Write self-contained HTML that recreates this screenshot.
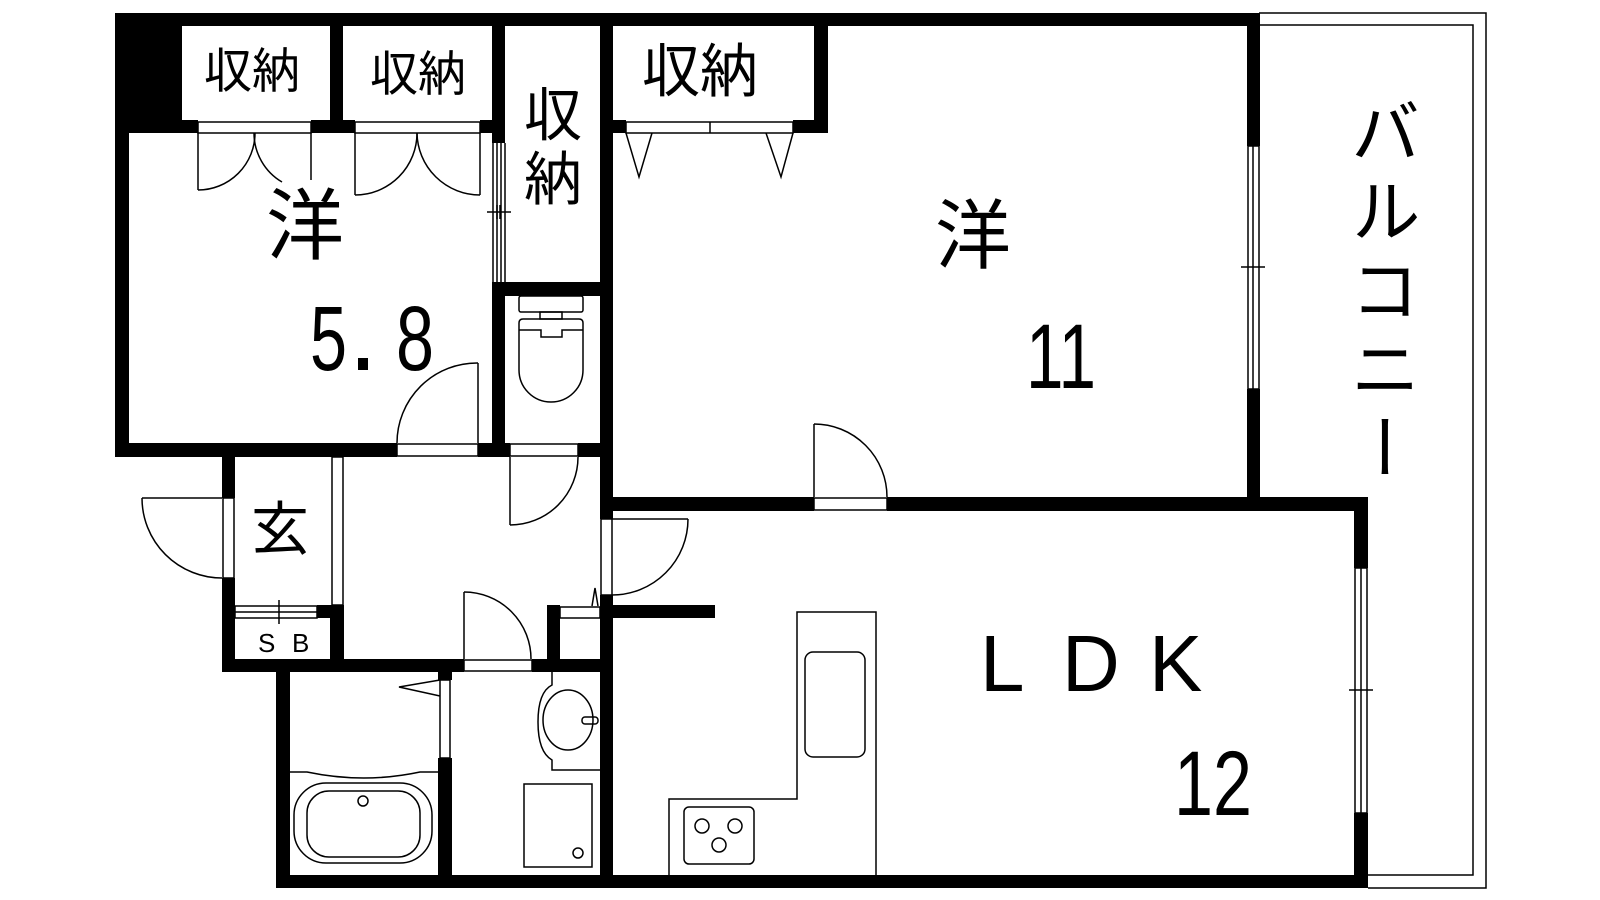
<!DOCTYPE html>
<html><head><meta charset="utf-8"><style>
html,body{margin:0;padding:0;background:#fff;}
body{width:1600px;height:900px;position:relative;overflow:hidden;}
svg{position:absolute;left:0;top:0;}
.j{font-family:"Liberation Sans","Noto Sans CJK JP",sans-serif;}
#bal{position:absolute;left:1345px;top:96px;width:80px;writing-mode:vertical-rl;font-family:"Noto Sans CJK JP",sans-serif;font-size:70px;line-height:80px;letter-spacing:9px;color:#000;}
</style></head><body>
<svg width="1600" height="900" viewBox="0 0 1600 900" xmlns="http://www.w3.org/2000/svg">
<g fill="none" stroke="#000" stroke-width="1.5">
<!-- balcony -->
<polyline points="1259,13 1486,13 1486,888 1368,888"/>
<polyline points="1259,25 1473,25 1473,875 1368,875"/>
</g>
<g fill="#000">
<!-- top wall -->
<rect x="115" y="13" width="1144" height="13"/>
<!-- black block -->
<rect x="115" y="13" width="67" height="120"/>
<!-- left wall room5.8 -->
<rect x="115" y="13" width="14" height="444"/>
<!-- closet divider -->
<rect x="330" y="13" width="13" height="120"/>
<!-- wall under closets -->
<rect x="129" y="120" width="69" height="13"/>
<rect x="311" y="120" width="44" height="13"/>
<rect x="480" y="120" width="25" height="13"/>
<!-- vertical wall 493-505 -->
<rect x="492" y="13" width="13" height="130"/>
<rect x="492" y="282" width="13" height="175"/>
<!-- wall tall closet/toilet -->
<rect x="492" y="282" width="121" height="14"/>
<!-- vertical wall 600-613 -->
<rect x="600" y="13" width="13" height="506"/>
<rect x="600" y="595" width="13" height="293"/>
<!-- closet3 -->
<rect x="814" y="13" width="14" height="120"/>
<rect x="613" y="120" width="13" height="13"/>
<rect x="793" y="120" width="35" height="13"/>
<!-- bedroom right wall -->
<rect x="1247" y="13" width="13" height="133"/>
<rect x="1247" y="389" width="13" height="122"/>
<!-- bedroom bottom / LDK top -->
<rect x="600" y="497" width="214" height="14"/>
<rect x="887" y="497" width="481" height="14"/>
<!-- LDK right wall -->
<rect x="1354" y="497" width="14" height="71"/>
<rect x="1354" y="813" width="14" height="75"/>
<!-- bottom wall -->
<rect x="276" y="875" width="1092" height="13"/>
<!-- room5.8 bottom wall -->
<rect x="115" y="443" width="282" height="14"/>
<rect x="478" y="443" width="32" height="14"/>
<rect x="578" y="443" width="35" height="14"/>
<!-- genkan left wall -->
<rect x="222" y="443" width="13" height="55"/>
<rect x="222" y="578" width="13" height="94"/>
<!-- SB blocks -->
<rect x="317" y="605" width="27" height="13"/>
<rect x="330" y="605" width="14" height="67"/>
<!-- bottom wall of hall -->
<rect x="222" y="659" width="242" height="13"/>
<rect x="532" y="659" width="81" height="13"/>
<rect x="547" y="605" width="13" height="67"/>
<!-- stub LDK -->
<rect x="613" y="605" width="102" height="13"/>
<!-- bath left wall -->
<rect x="276" y="659" width="14" height="229"/>
<!-- bath/wash divider -->
<rect x="438" y="659" width="14" height="21"/>
<rect x="438" y="758" width="14" height="130"/>
</g>
<g fill="none" stroke="#000" stroke-width="1.5">
<!-- closet door frames -->
<rect x="198" y="122" width="113" height="11"/>
<rect x="355" y="122" width="125" height="11"/>
<rect x="626" y="122" width="167" height="11"/><line x1="710" y1="122" x2="710" y2="133"/>
<!-- closet1 doors -->
<line x1="198" y1="133" x2="198" y2="190"/><path d="M198,190 A57,57 0 0 0 255,133"/>
<line x1="311" y1="133" x2="311" y2="180"/><path d="M254,133 A57,57 0 0 0 282,182"/>
<!-- closet2 doors -->
<line x1="355" y1="133" x2="355" y2="195"/><path d="M355,195 A62,62 0 0 0 417,133"/>
<line x1="480" y1="133" x2="480" y2="195"/><path d="M417,133 A63,63 0 0 0 480,195"/>
<!-- folding -->
<polyline points="626,133 639,177 652,133"/>
<polyline points="766,133 781,177 793,133"/>
<!-- sliding room5.8/closet -->
<line x1="493" y1="143" x2="493" y2="282"/><line x1="497" y1="143" x2="497" y2="282"/>
<line x1="501" y1="143" x2="501" y2="282"/><line x1="505" y1="143" x2="505" y2="282"/>
<line x1="487" y1="212" x2="511" y2="212"/><line x1="497" y1="205" x2="497" y2="219"/><line x1="500" y1="205" x2="500" y2="219"/>
<!-- bedroom window -->
<rect x="1248" y="146" width="11" height="243"/><line x1="1253" y1="146" x2="1253" y2="389"/>
<line x1="1241" y1="267" x2="1265" y2="267"/>
<!-- LDK window -->
<rect x="1355" y="568" width="12" height="245"/><line x1="1361" y1="568" x2="1361" y2="813"/>
<line x1="1349" y1="690" x2="1373" y2="690"/>
<!-- room5.8 door -->
<rect x="397" y="444" width="81" height="12"/>
<line x1="478" y1="443" x2="478" y2="363"/><path d="M478,363 A80,80 0 0 0 397,443"/>
<!-- toilet door -->
<rect x="510" y="444" width="68" height="12"/>
<line x1="510" y1="457" x2="510" y2="525"/><path d="M510,525 A68,68 0 0 0 578,457"/>
<!-- bedroom door -->
<rect x="814" y="498" width="73" height="12"/>
<line x1="814" y1="497" x2="814" y2="424"/><path d="M814,424 A73,73 0 0 1 887,497"/>
<!-- LDK door -->
<rect x="601" y="519" width="11" height="76"/>
<line x1="612" y1="519" x2="688" y2="519"/><path d="M688,519 A76,76 0 0 1 612,595"/>
<!-- entrance door -->
<rect x="223" y="498" width="11" height="80"/>
<line x1="222" y1="498" x2="142" y2="498"/><path d="M142,498 A80,80 0 0 0 222,578"/>
<!-- genkan step -->
<rect x="332" y="457" width="11" height="148"/>
<!-- SB sliding -->
<rect x="235" y="606" width="82" height="12"/><line x1="235" y1="612" x2="317" y2="612"/>
<line x1="279" y1="600" x2="279" y2="624"/>
<!-- washroom door -->
<rect x="464" y="660" width="68" height="11"/>
<line x1="464" y1="659" x2="464" y2="592"/><path d="M464,592 A67,67 0 0 1 531,659"/>
<!-- small frame -->
<rect x="560" y="607" width="40" height="11"/>
<polyline points="592,606 595,588 598,606"/>
<!-- bath door -->
<rect x="440" y="680" width="10" height="78"/>
<polyline points="440,680 399,687 440,696"/>
<!-- tub -->
<path d="M290,772 L307,772 Q364,784 420,772 L438,772"/>
<rect x="294" y="783" width="138" height="80" rx="32"/>
<rect x="307" y="791" width="113" height="66" rx="22"/>
<circle cx="363" cy="801" r="5"/>
<!-- washbasin -->
<path d="M552,672 L552,685 Q538,692 538,722 Q538,752 552,760 L552,770 L600,770"/>
<ellipse cx="568" cy="720" rx="25" ry="30"/>
<rect x="582" y="717" width="16" height="7" rx="3"/>
<!-- washing pan -->
<rect x="524" y="784" width="68" height="83"/>
<circle cx="578" cy="853" r="5"/>
<!-- toilet -->
<rect x="519" y="296" width="64" height="16" rx="2"/>
<rect x="540" y="312" width="22" height="7"/>
<path d="M523,319 L579,319 Q583,319 583,323 L583,370 A32,32 0 0 1 519,370 L519,323 Q519,319 523,319 Z"/>
<polyline points="519,330 541,330 541,337 562,337 562,330 583,330"/>
<!-- kitchen -->
<polyline points="669,875 669,799 797,799 797,612 876,612 876,875"/>
<rect x="805" y="652" width="60" height="105" rx="8"/>
<rect x="684" y="807" width="70" height="57" rx="5"/>
<circle cx="702" cy="826" r="7"/><circle cx="735" cy="826" r="7"/><circle cx="719" cy="845" r="7"/>
</g>
<g fill="#000" class="j" font-family="Liberation Sans, Noto Sans CJK JP, sans-serif">
<text x="252" y="72" font-size="48" text-anchor="middle" dominant-baseline="central">収納</text>
<text x="418" y="75" font-size="48" text-anchor="middle" dominant-baseline="central">収納</text>
<text x="700" y="72" font-size="58" text-anchor="middle" dominant-baseline="central">収納</text>
<text x="553" y="116" font-size="58" text-anchor="middle" dominant-baseline="central">収</text>
<text x="553" y="180" font-size="58" text-anchor="middle" dominant-baseline="central">納</text>
<text x="305" y="226" font-size="78" text-anchor="middle" dominant-baseline="central">洋</text>
<text x="973" y="237" font-size="76" text-anchor="middle" dominant-baseline="central">洋</text>
<text x="280" y="530" font-size="58" text-anchor="middle" dominant-baseline="central">玄</text>
<text x="258" y="652" font-size="26">S</text><text x="292" y="652" font-size="26">B</text>
<text x="310" y="370" font-size="92" textLength="37" lengthAdjust="spacingAndGlyphs">5</text>
<rect x="358" y="358" width="10" height="12"/>
<text x="396" y="370" font-size="92" textLength="38" lengthAdjust="spacingAndGlyphs">8</text>
<text x="1026" y="388" font-size="92" textLength="70" lengthAdjust="spacingAndGlyphs">11</text>
<text x="1174" y="815" font-size="92" textLength="78" lengthAdjust="spacingAndGlyphs">12</text>
<text x="980" y="691" font-size="80">L</text>
<text x="1062" y="691" font-size="80">D</text>
<text x="1149" y="691" font-size="80">K</text>
</g>
</svg>
<div id="bal">バルコニー</div>
</body></html>
